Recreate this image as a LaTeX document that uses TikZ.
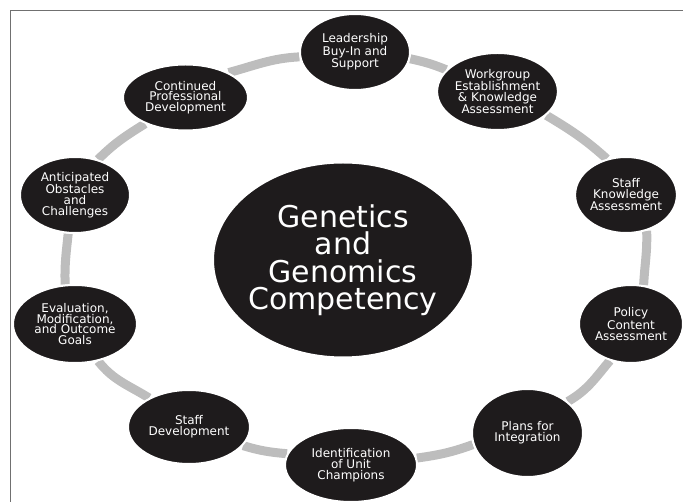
\documentclass[tikz,border=0pt]{standalone}
\usepackage{fontspec}
\setmainfont{DejaVu Sans}
\usetikzlibrary{shapes.geometric,backgrounds}
\definecolor{inkfill}{HTML}{1E1B1C}
\definecolor{ringgray}{HTML}{BDBDBD}
\definecolor{framegray}{HTML}{707070}
\tikzset{
  stage/.style={ellipse, fill=inkfill, draw=white, line width=2pt, inner sep=0pt,
    text=white, align=center, font=\fontsize{12}{10.8}\selectfont},
  hub/.style={stage, inner xsep=-10pt, inner ysep=0pt,
    font=\fontsize{30}{27.5}\selectfont},
  ring/.style={draw=ringgray, line width=9pt},
  frame/.style={draw=framegray, line width=1.5pt},
}
\begin{document}
\begin{tikzpicture}[x=1pt,y=-1pt]
\useasboundingbox (0,0) rectangle (683,502);
% partial frame along the top and left edges
\draw[frame] (10.5,502) -- (10.5,10.5) -- (683,10.5);

% central topic
\node[hub, minimum width=260pt, minimum height=195pt] (core) at (343,260)
  {Genetics\\and\\Genomics\\Competency};

% stages around the ring, clockwise from the top
\node[stage, minimum width=110pt, minimum height=76pt] (lead) at (355,52)
  {Leadership\\Buy-In and\\Support};
\node[stage, minimum width=112pt, minimum height=77pt] (work) at (497.5,91.5)
  {Workgroup\\Establishment\\\& Knowledge\\Assessment};
\node[stage, minimum width=94pt, minimum height=76pt] (skn) at (626,195)
  {Staff\\Knowledge\\Assessment};
\node[stage, minimum width=104pt, minimum height=78pt] (pol) at (631,324)
  {Policy\\Content\\Assessment};
\node[stage, minimum width=111pt, minimum height=88pt] (plans) at (527.5,433)
  {Plans for\\Integration};
\node[stage, minimum width=132pt, minimum height=74pt] (ident) at (351,465)
  {Identification\\of Unit\\Champions};
\node[stage, minimum width=122pt, minimum height=74pt] (sdev) at (189,427)
  {Staff\\Development};
\node[stage, minimum width=124pt, minimum height=78pt] (eval) at (75,324)
  {Evaluation,\\Modification,\\and Outcome\\Goals};
\node[stage, minimum width=110pt, minimum height=76pt] (antic) at (75,195)
  {Anticipated\\Obstacles\\and\\Challenges};
\node[stage, minimum width=125pt, minimum height=66pt] (cont) at (185.5,97.5)
  {Continued\\Professional\\Development};

% grey ring linking neighbouring stages
\begin{scope}[on background layer]
  \draw[ring] (lead.-7)    to[out=-12,  in=158] (work.157);
  \draw[ring] (work.-26)   to[out=-31,  in=138] (skn.118);
  \draw[ring] (skn.-60)    to[out=-88,  in=87]  (pol.72);
  \draw[ring] (pol.-120)   to[out=-130, in=30]  (plans.38);
  \draw[ring] (plans.192)  to[out=-160, in=8]   (ident.6);
  \draw[ring] (ident.170)  to[out=175,  in=-17] (sdev.-19);
  \draw[ring] (sdev.144)   to[out=148,  in=-52] (eval.-58);
  \draw[ring] (eval.104)   to[out=92,   in=-96] (antic.-100);
  \draw[ring] (antic.57)   to[out=45,   in=-148](cont.-147);
  \draw[ring] (cont.30)    to[out=15,   in=183] (lead.185);
\end{scope}
\end{tikzpicture}
\end{document}
